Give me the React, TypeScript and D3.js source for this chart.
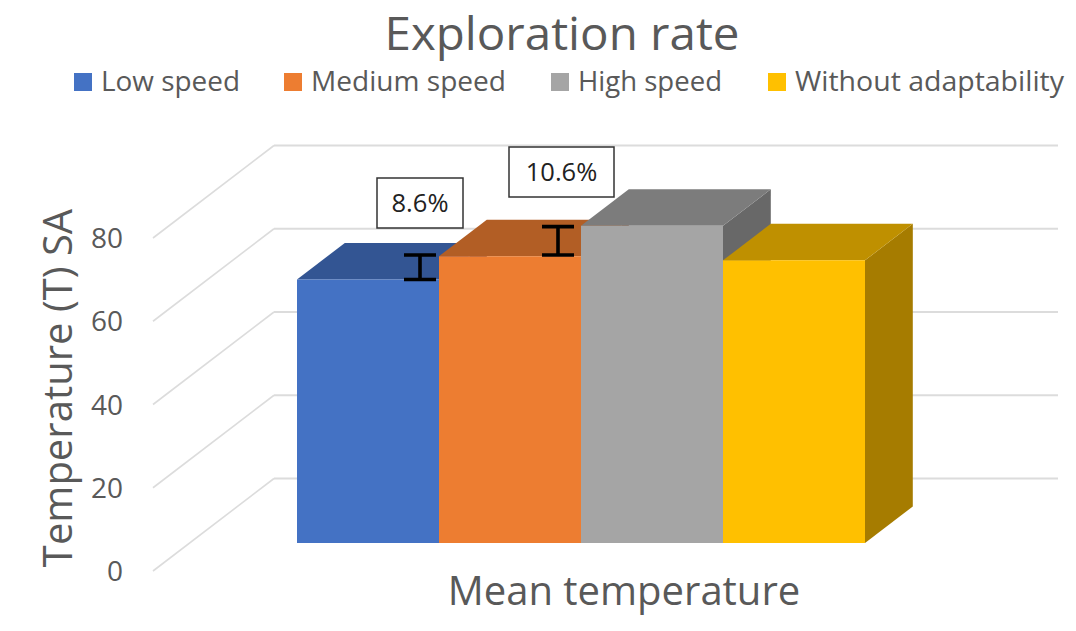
import React from "react";
import * as d3 from "d3";

const seriesNames = ["Low speed", "Medium speed", "High speed", "Without adaptability"];
const seriesValues = [63.3, 68.9, 76.2, 67.9];
const frontColors = ["#4472C4", "#ED7D31", "#A5A5A5", "#FFC000"];
const topColors = ["#335593", "#B25E25", "#7C7C7C", "#BF9000"];
const sideColors = ["#29447A", "#9A5020", "#686868", "#A67C00"];
const yTicks = [0, 20, 40, 60, 80];
const errorLow = [63.3, 69.2];
const errorHigh = [69.2, 76.0];
const errorLabels = ["8.6%", "10.6%"];
const FONT = "'Open Sans', sans-serif";

const y = d3.scaleLinear().domain([0, 80]).range([571, 238]);
const x = d3.scaleBand<string>().domain(seriesNames).range([297, 865]);
const depthX = d3.scaleLinear().domain([0, 1]).range([0, 121]);
const depthY = d3.scaleLinear().domain([0, 1]).range([0, -92.5]);
const line = d3.line<[number, number]>();

const BAR_FRONT = 0.3;
const BAR_BACK = 0.695;
// The bars stand on the floor at BAR_FRONT depth, so values are measured from that plane.
const project = (px: number, value: number, depth: number): [number, number] => [
  px + depthX(depth - BAR_FRONT),
  y(value) + depthY(depth),
];

const legendX = [74, 284, 551, 768];
const legendTextX = [101, 311, 578, 795];
const legendTextW = [139, 195, 144, 269];

const poly = (pts: [number, number][]) => (line(pts) as string) + "Z";

export default function App() {
  const bw = x.bandwidth();
  const errX = [420, 558];
  const capW = 32;
  const boxes = [
    { x: 377, y: 178, w: 86, h: 50 },
    { x: 509, y: 147, w: 105, h: 50 },
  ];
  return (
    <svg
      width={1076}
      height={631}
      viewBox="0 0 1076 631"
      style={{ position: "absolute", left: 0, top: 0, background: "#fff" }}
    >
      <text
        x={562}
        y={50}
        textAnchor="middle"
        fontFamily={FONT}
        fontSize={46}
        fill="#595959"
        textLength={355}
        lengthAdjust="spacingAndGlyphs"
      >
        Exploration rate
      </text>
      {seriesNames.map((n, i) => (
        <g key={n}>
          <rect x={legendX[i]} y={73} width={18} height={18} fill={frontColors[i]} />
          <text
            x={legendTextX[i]}
            y={91}
            fontFamily={FONT}
            fontSize={28}
            fill="#595959"
            textLength={legendTextW[i]}
            lengthAdjust="spacingAndGlyphs"
          >
            {n}
          </text>
        </g>
      ))}

      {yTicks.map((t) => (
        <g key={t}>
          <path
            d={line([
              [153, y(t)],
              [153 + depthX(1), y(t) + depthY(1)],
            ]) as string}
            fill="none"
            stroke="#dcdcdc"
            strokeWidth={1.6}
          />
          <path
            d={line([
              [153 + depthX(1), y(t) + depthY(1)],
              [1058, y(t) + depthY(1)],
            ]) as string}
            fill="none"
            stroke="#dcdcdc"
            strokeWidth={2}
          />
          <text x={123} y={y(t) + 10} textAnchor="end" fontFamily={FONT} fontSize={28} fill="#595959">
            {t}
          </text>
        </g>
      ))}

      {seriesNames.map((n, i) => {
        const x0 = x(n) as number;
        const x1 = x0 + bw;
        const base = y.invert(543 - depthY(BAR_FRONT));
        const top = seriesValues[i] + base;
        return (
          <g key={n}>
            <path
              d={poly([
                project(x1, base, BAR_FRONT),
                project(x1, base, BAR_BACK),
                project(x1, top, BAR_BACK),
                project(x1, top, BAR_FRONT),
              ])}
              fill={sideColors[i]}
            />
            <path
              d={poly([
                project(x0, top, BAR_FRONT),
                project(x0, top, BAR_BACK),
                project(x1, top, BAR_BACK),
                project(x1, top, BAR_FRONT),
              ])}
              fill={topColors[i]}
            />
            <path
              d={poly([
                project(x0, base, BAR_FRONT),
                project(x0, top, BAR_FRONT),
                project(x1, top, BAR_FRONT),
                project(x1, base, BAR_FRONT),
              ])}
              fill={frontColors[i]}
            />
          </g>
        );
      })}

      {errorLabels.map((lab, i) => {
        const base = y.invert(543 - depthY(BAR_FRONT));
        const yl = project(0, errorLow[i] + base, BAR_FRONT)[1];
        const yh = project(0, errorHigh[i] + base, BAR_FRONT)[1];
        const b = boxes[i];
        return (
          <g key={lab}>
            <path
              d={`M${errX[i]},${yl}V${yh}M${errX[i] - capW / 2},${yl}H${errX[i] + capW / 2}M${errX[i] - capW / 2},${yh}H${errX[i] + capW / 2}`}
              fill="none"
              stroke="#000"
              strokeWidth={3.6}
            />
            <rect x={b.x} y={b.y} width={b.w} height={b.h} fill="#fff" stroke="#333" strokeWidth={1.5} />
            <text
              x={b.x + b.w / 2}
              y={b.y + b.h / 2 + 9}
              textAnchor="middle"
              fontFamily={FONT}
              fontSize={25.5}
              fill="#222"
            >
              {lab}
            </text>
          </g>
        );
      })}

      <text x={624} y={605} textAnchor="middle" fontFamily={FONT} fontSize={40} fill="#595959">
        Mean temperature
      </text>
      <text
        transform="translate(72,388) rotate(-90)"
        textAnchor="middle"
        fontFamily={FONT}
        fontSize={40}
        fill="#595959"
      >
        Temperature (T) SA
      </text>
    </svg>
  );
}
